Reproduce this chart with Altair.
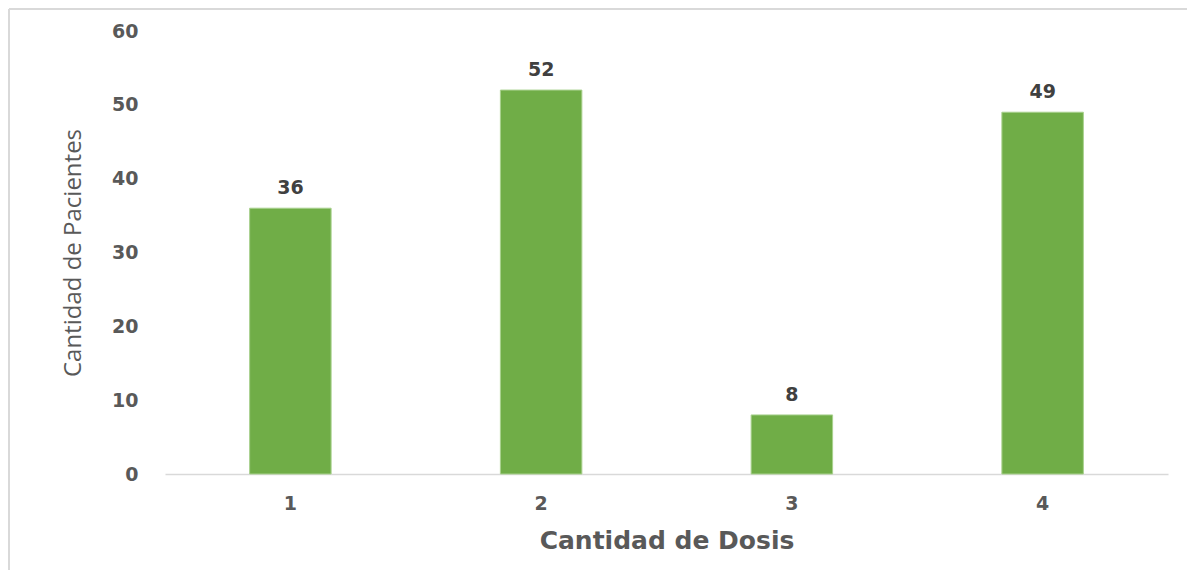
import altair as alt
import pandas as pd

dosis = ["1", "2", "3", "4"]
pacientes = [36, 52, 8, 49]
y_ticks = [0, 10, 20, 30, 40, 50, 60]

df = pd.DataFrame({"dosis": dosis, "pacientes": pacientes})
frame_df = pd.DataFrame({"k": [0]})

GREEN = "#70AD47"
LABEL = "#595959"
BORDER = "#d9d9d9"

x_enc = alt.X(
    "dosis:N",
    sort=dosis,
    title="Cantidad de Dosis",
    scale=alt.Scale(paddingInner=0.675, paddingOuter=0.3375),
    axis=alt.Axis(
        labelAngle=0,
        labelFont="DejaVu Sans",
        labelFontWeight="bold",
        labelFontSize=19,
        labelColor=LABEL,
        labelPadding=20,
        ticks=False,
        domain=True,
        domainColor=BORDER,
        domainWidth=1.5,
        titleFont="DejaVu Sans",
        titleFontWeight="bold",
        titleFontSize=25,
        titleColor=LABEL,
        titleBaseline="alphabetic",
        titleY=74,
    ),
)

y_enc = alt.Y(
    "pacientes:Q",
    title="Cantidad de Pacientes",
    scale=alt.Scale(domain=[0, 60], nice=False),
    axis=alt.Axis(
        values=y_ticks,
        grid=False,
        domain=False,
        ticks=False,
        labelFont="DejaVu Sans",
        labelFontWeight="bold",
        labelFontSize=19,
        labelColor=LABEL,
        labelPadding=27,
        titleFont="Open Sans",
        titleFontWeight="normal",
        titleFontSize=24,
        titleColor=LABEL,
        titleAngle=-90,
        titleBaseline="middle",
        titleX=-92,
        titleY=221.5,
    ),
)

base = alt.Chart(df)

bars = base.mark_bar(color=GREEN, stroke="#a9d18e", strokeWidth=1).encode(x=x_enc, y=y_enc)

labels = base.mark_text(
    font="DejaVu Sans",
    fontWeight="bold",
    fontSize=19,
    color="#404040",
    baseline="alphabetic",
    dy=-14,
).encode(x=alt.X("dosis:N", sort=dosis), y="pacientes:Q", text="pacientes:Q")

frame_top = alt.Chart(frame_df).mark_rule(color=BORDER, strokeWidth=2).encode(
    x=alt.value(-156), x2=alt.value(1022), y=alt.value(-22)
)
frame_left = alt.Chart(frame_df).mark_rule(color=BORDER, strokeWidth=2).encode(
    x=alt.value(-156), y=alt.value(-22), y2=alt.value(539)
)

chart = (
    alt.layer(frame_top, frame_left, bars, labels)
    .properties(
        width=1003,
        height=443,
        padding={"left": 157, "top": 23, "right": 19, "bottom": 96},
        autosize=alt.AutoSizeParams(type="none"),
        background="white",
    )
    .configure_view(stroke=None)
)

chart.save("out.html", embed_options={"renderer": "svg", "actions": False})
